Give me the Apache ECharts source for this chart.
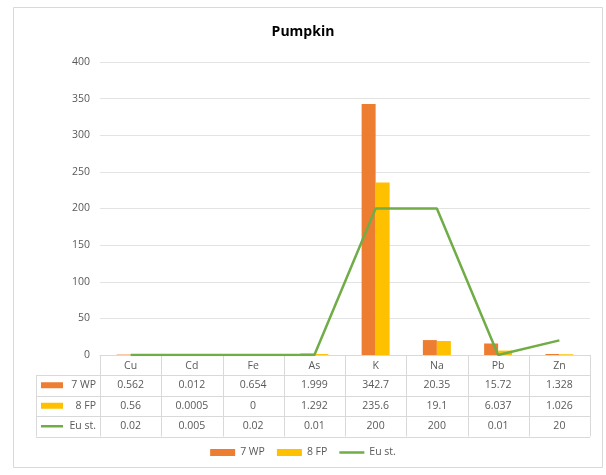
<!DOCTYPE html>
<html><head><meta charset="utf-8">
<script src="https://cdn.jsdelivr.net/npm/echarts@6/dist/echarts.min.js"></script>
<style>html,body{margin:0;padding:0;background:#fff}#c{width:606px;height:475px}</style>
</head><body><div id="c"></div>
<script>
const categories = ['Cu','Cd','Fe','As','K','Na','Pb','Zn'];
const wp7 = [0.562,0.012,0.654,1.999,342.7,20.35,15.72,1.328];
const fp8 = [0.56,0.0005,0,1.292,235.6,19.1,6.037,1.026];
const euSt = [0.02,0.005,0.02,0.01,200,200,0.01,20];
const wp7Text = ['0.562','0.012','0.654','1.999','342.7','20.35','15.72','1.328'];
const fp8Text = ['0.56','0.0005','0','1.292','235.6','19.1','6.037','1.026'];
const euText = ['0.02','0.005','0.02','0.01','200','200','0.01','20'];
const seriesNames = ['7 WP','8 FP','Eu st.'];
const colors = ['#ED7D31','#FFC000','#70AD47'];

const FONT = 'Open Sans, Liberation Sans, sans-serif';
const TXT = '#595959';
const chart = echarts.init(document.getElementById('c'), null, {renderer:'canvas'});
const gridL = 100, gridR = 16, gridT = 62, gridB = 120;
chart.setOption({
  animation:false,
  backgroundColor:'#fff',
  title:{text:'Pumpkin', left:'center', top:20, textStyle:{fontFamily:FONT, fontSize:14, fontWeight:'bold', color:'#000'}},
  legend:{bottom:12, left:'center', itemWidth:25, itemHeight:7, itemGap:12, symbolKeepAspect:true,
    textStyle:{fontFamily:FONT, fontSize:10.5, color:TXT},
    data:[{name:seriesNames[0], icon:'rect'},{name:seriesNames[1], icon:'rect'},
          {name:seriesNames[2], icon:'path://M0,0 L25,0 L25,2.5 L0,2.5 Z'}]},
  grid:{left:gridL, right:gridR, top:gridT, bottom:gridB},
  xAxis:{type:'category', data:categories,
    axisLine:{lineStyle:{color:'#d9d9d9'}}, axisTick:{show:false},
    axisLabel:{fontFamily:FONT, fontSize:10.5, color:TXT, margin:6}},
  yAxis:{type:'value', min:0, max:400, interval:50,
    axisLine:{show:false}, axisTick:{show:false},
    splitLine:{lineStyle:{color:'#e3e3e3'}},
    axisLabel:{fontFamily:FONT, fontSize:10.5, color:TXT, margin:10}},
  series:[
    {name:seriesNames[0], type:'bar', data:wp7, barWidth:14, barGap:'0%', itemStyle:{color:colors[0]}},
    {name:seriesNames[1], type:'bar', data:fp8, barWidth:14, barGap:'0%', itemStyle:{color:colors[1]}},
    {name:seriesNames[2], type:'line', data:euSt, symbol:'none', lineStyle:{color:colors[2], width:2.5}, itemStyle:{color:colors[2]}}
  ]
});

// data table below the axis
const y0 = chart.convertToPixel({yAxisIndex:0}, 0);
const xL = gridL, xR = 606 - gridR, tblL = 36;
const rowH = 20.5;
const rowsTop = y0 + 20;
const lineColor = '#d9d9d9';
const els = [];
const rowTexts = [wp7Text, fp8Text, euText];
for (let r = 0; r <= 3; r++) {
  const y = Math.round(rowsTop + r*rowH) + 0.5;
  els.push({type:'line', shape:{x1:tblL, y1:y, x2:xR, y2:y}, style:{stroke:lineColor, lineWidth:1}});
}
const step = (xR - xL) / categories.length;
for (let i = 0; i <= categories.length; i++) {
  const x = Math.round(xL + i*step) + 0.5;
  els.push({type:'line', shape:{x1:x, y1:y0, x2:x, y2:rowsTop + 3*rowH}, style:{stroke:lineColor, lineWidth:1}});
}
els.push({type:'line', shape:{x1:tblL+0.5, y1:rowsTop, x2:tblL+0.5, y2:rowsTop+3*rowH}, style:{stroke:lineColor, lineWidth:1}});
for (let r = 0; r < 3; r++) {
  const cy = rowsTop + r*rowH + rowH/2;
  categories.forEach((c, i) => {
    const cx = chart.convertToPixel({xAxisIndex:0}, c);
    els.push({type:'text', x:cx, y:cy, style:{text:rowTexts[r][i], fill:TXT, font:'10.5px ' + FONT, align:'center', verticalAlign:'middle'}});
  });
  if (r < 2) {
    els.push({type:'rect', shape:{x:41, y:cy-3, width:22, height:6}, style:{fill:colors[r]}});
  } else {
    els.push({type:'line', shape:{x1:41, y1:cy, x2:63, y2:cy}, style:{stroke:colors[r], lineWidth:2.5}});
  }
  els.push({type:'text', x:96, y:cy, style:{text:seriesNames[r], fill:TXT, font:'10.5px ' + FONT, align:'right', verticalAlign:'middle'}});
}
els.push({type:'rect', shape:{x:13.5, y:7.5, width:589, height:460}, style:{fill:null, stroke:'#d9d9d9', lineWidth:1}, z:-1});
chart.setOption({graphic:{elements:els}});
</script></body></html>
